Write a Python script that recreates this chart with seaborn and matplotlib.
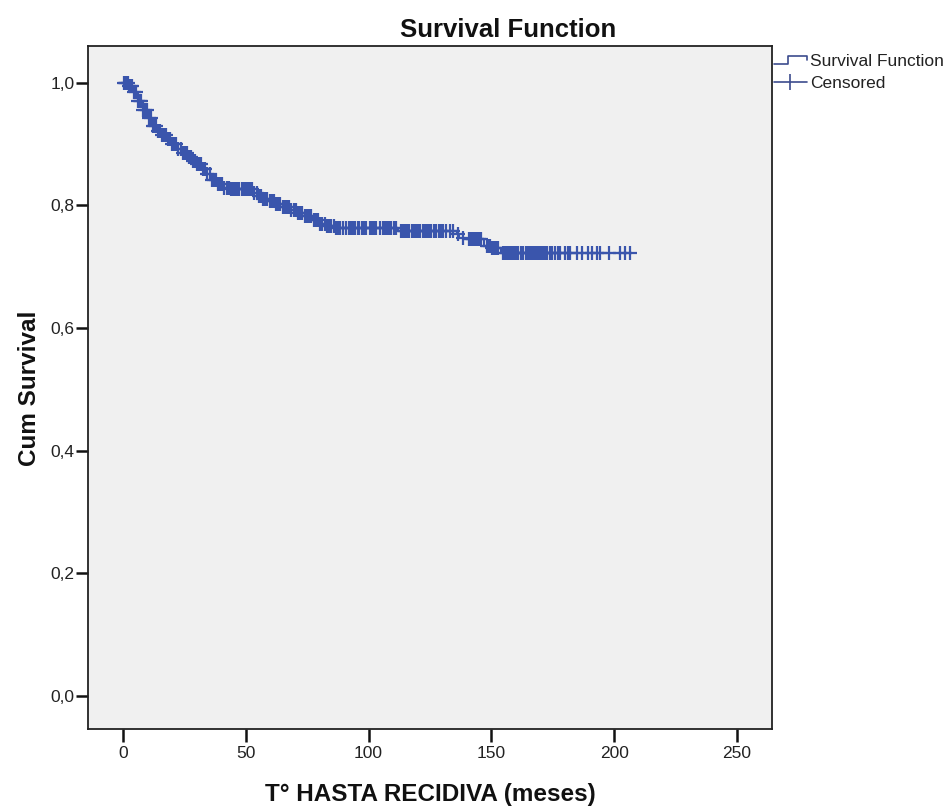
import numpy as np
import pandas as pd
import matplotlib
matplotlib.use("Agg")
import matplotlib.pyplot as plt
import seaborn as sns
from matplotlib.lines import Line2D
from matplotlib.legend_handler import HandlerBase
from matplotlib.ticker import FuncFormatter

# ---- data ----
event_times = [0, 2, 4, 6, 8, 10, 12, 14, 16, 18, 20, 22, 24, 26, 28, 30, 32, 34, 36, 38,
               41, 44, 53, 55, 57, 59, 62, 65, 68, 71, 74, 77, 80, 83, 86, 112, 136, 137,
               140, 147, 150, 154]
survival = [1.000, 0.995, 0.985, 0.970, 0.955, 0.942, 0.930, 0.922, 0.915, 0.908, 0.900,
            0.892, 0.885, 0.879, 0.873, 0.867, 0.860, 0.851, 0.842, 0.835, 0.829, 0.826,
            0.821, 0.816, 0.811, 0.807, 0.802, 0.797, 0.792, 0.787, 0.782, 0.776, 0.770,
            0.766, 0.763, 0.759, 0.754, 0.747, 0.745, 0.734, 0.731, 0.722]
last_time = 207

censored_times = [
    0.3, 0.8, 1.2, 1.9, 2.6, 3.1, 3.8, 4.5, 5.2, 6.1, 6.8, 7.5, 8.3, 9.0, 9.7, 10.6, 11.3,
    12.1, 12.8, 13.6, 14.4, 15.2, 16.0, 16.9, 17.7, 18.5, 19.3,
    20.1, 21.0, 21.8, 22.6, 23.5, 24.3, 25.1, 25.9, 26.8, 27.6, 28.5, 29.3, 30.2, 31.0,
    31.9, 32.7, 33.6, 34.4, 35.3, 36.1, 37.0, 37.9, 38.7, 39.6, 40.5, 41.3, 42.2, 43.1,
    44.0, 44.8,
    45.7, 46.5, 47.4, 48.3, 49.1, 50.0, 50.9, 51.8, 52.6, 53.5, 54.4, 55.3, 56.2, 57.0,
    57.9, 58.8, 59.7, 60.6, 61.5, 62.4, 63.2, 64.1, 65.0, 65.9, 66.8, 67.7, 68.6, 69.5,
    70.4, 71.3, 72.2, 73.1, 74.0, 74.9, 75.8, 76.7, 77.6, 78.5, 79.4, 80.3, 81.2, 82.1,
    83.0, 84.0, 84.9, 85.8, 86.7, 87.6, 88.5,
    89.4, 91.0, 91.9, 92.8, 93.7, 94.6, 95.5, 96.3, 97.2, 98.1, 99.0, 100.5, 101.4, 102.3,
    103.2, 104.8, 105.7, 106.6, 107.5, 108.4, 109.3, 110.2, 111.1, 113.0, 113.9, 114.8,
    115.7, 116.6, 117.5, 118.4, 119.3, 120.2, 121.1, 122.0, 122.9, 123.8, 124.7, 125.6,
    126.5, 127.4, 128.6, 129.5, 130.4, 131.6, 133.0, 134.2,
    136.5, 138.5, 140.8, 141.6, 142.4, 143.2, 144.0, 144.8, 145.6, 148.0, 148.8, 149.6,
    150.4, 151.2, 152.0, 152.8,
    154.6, 155.4, 156.2, 157.0, 157.8, 158.6, 159.4, 160.2, 161.0, 162.0, 163.0, 164.0,
    164.8, 165.6, 166.4, 167.2, 168.0, 168.8, 169.6, 170.4, 171.2, 172.0, 172.8, 173.8,
    174.7, 175.7, 177.0, 178.0, 180.0, 181.2, 182.0, 184.8, 186.9, 189.5, 190.8, 193.0,
    194.3, 197.7, 202.4, 204.5, 206.5]

x_ticks = [0, 50, 100, 150, 200, 250]
y_ticks = [0.0, 0.2, 0.4, 0.6, 0.8, 1.0]

title = "Survival Function"
xlabel = "T° HASTA RECIDIVA (meses)"
ylabel = "Cum Survival"
legend_labels = ["Survival Function", "Censored"]

# ---- build tables ----
step_df = pd.DataFrame({"time": event_times + [last_time],
                        "surv": survival + [survival[-1]]})
et = np.array(event_times)
sv = np.array(survival)
ct = np.array(censored_times)
cens_df = pd.DataFrame({"time": ct,
                        "surv": sv[np.searchsorted(et, ct, side="right") - 1]})

# ---- style ----
sns.set_theme(style="white")
plt.rcParams["font.family"] = ["Liberation Sans", "DejaVu Sans"]
color = "#3a55ac"

fig = plt.figure(figsize=(9.52, 8.06), dpi=100)
ax = fig.add_axes([88 / 952, 1 - 729 / 806, (772 - 88) / 952, (729 - 46) / 806])
ax.set_facecolor("#f0f0f0")

sns.lineplot(data=step_df, x="time", y="surv", ax=ax, estimator=None, sort=False,
             drawstyle="steps-post", color=color, linewidth=1.5)
sns.scatterplot(data=cens_df, x="time", y="surv", ax=ax, marker="+", color=color,
                s=95, linewidth=1.6, zorder=3)

ax.set_xlim(-14.2, 264.2)
ax.set_ylim(-0.054, 1.06)
ax.set_xticks(x_ticks)
ax.set_yticks(y_ticks)
ax.yaxis.set_major_formatter(FuncFormatter(lambda v, p: f"{v:.1f}".replace(".", ",")))
ax.tick_params(axis="both", which="major", direction="out", length=9, width=1.8,
               color="#111111", labelsize=12.5, labelcolor="#222222",
               bottom=True, left=True, top=False, right=False)
ax.tick_params(axis="y", pad=0.5)
ax.tick_params(axis="x", pad=3)
ax.set_xlabel("")
ax.set_ylabel("")
for s in ax.spines.values():
    s.set_visible(True)
    s.set_color("#222222")
    s.set_linewidth(1.3)

fig.text(508 / 952, 1 - 30 / 806, title, ha="center", va="center",
         fontsize=18.5, fontweight="bold", color="#111111")
fig.text(430 / 952, 1 - 795 / 806, xlabel, ha="center", va="center",
         fontsize=17.5, fontweight="bold", color="#111111")
fig.text(30 / 952, 1 - 388 / 806, ylabel, ha="center", va="center", rotation=90,
         fontsize=17.5, fontweight="bold", color="#111111")


class HandlerStep(HandlerBase):
    def create_artists(self, legend, orig_handle, xdescent, ydescent, width, height,
                       fontsize, trans):
        x0, y0 = -xdescent, -ydescent
        xs = [x0, x0 + 0.42 * width, x0 + 0.42 * width, x0 + width, x0 + width]
        ys = [y0 + 0.2 * height, y0 + 0.2 * height, y0 + 0.85 * height,
              y0 + 0.85 * height, y0 + 0.5 * height]
        ln = Line2D(xs, ys, color=orig_handle.get_color(), linewidth=1.2)
        ln.set_transform(trans)
        return [ln]


h_step = Line2D([], [], color="#3c4c8e")
h_cens = Line2D([], [], color="#3c4c8e", marker="|", markersize=11, linewidth=1.2,
                markeredgewidth=1.2)
fig.legend([h_step, h_cens], legend_labels, handler_map={h_step: HandlerStep()},
           loc="upper left", bbox_to_anchor=(774 / 952, 1 - 54 / 806),
           frameon=False, fontsize=12.5, handlelength=1.9, handletextpad=0.2,
           labelspacing=0.4, borderaxespad=0, borderpad=0, numpoints=1,
           labelcolor="#222222")

fig.savefig("out.png", dpi=100, facecolor="white")
